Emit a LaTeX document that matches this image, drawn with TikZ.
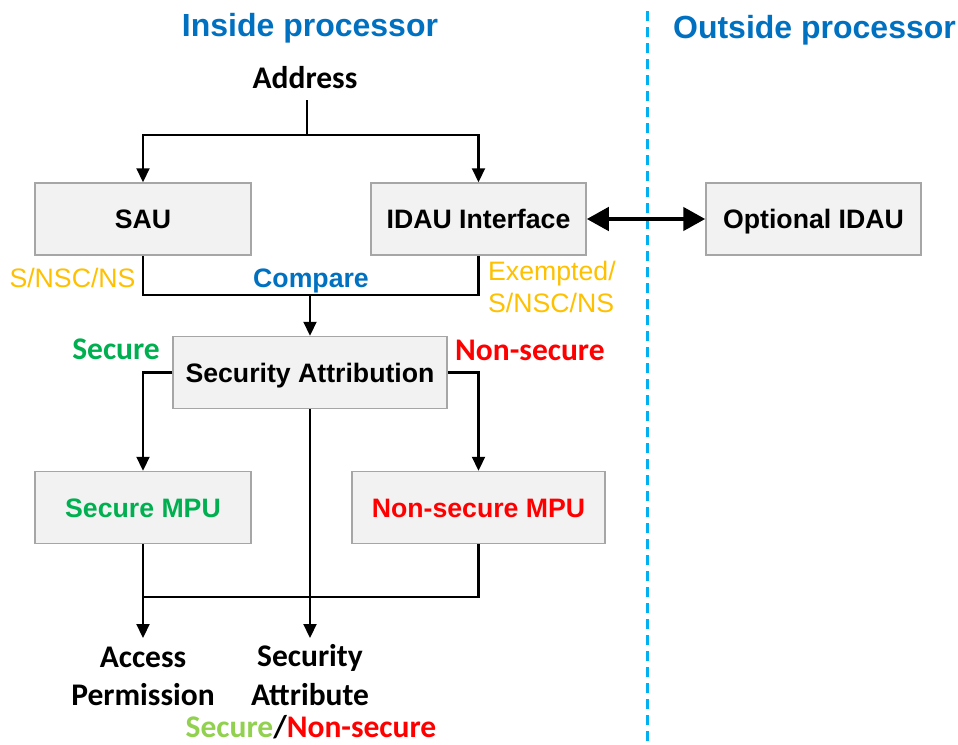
\documentclass[tikz,border=0pt]{standalone}
\usepackage{fontspec}
\usetikzlibrary{arrows.meta}
\newfontfamily\arialfont{Liberation Sans}
\newfontfamily\calfont{Carlito}
\definecolor{boxfill}{HTML}{F2F2F2}
\definecolor{boxline}{HTML}{A6A6A6}
\definecolor{attrorange}{HTML}{FFC000}
\definecolor{titleblue}{HTML}{0070C0}
\definecolor{secgreen}{HTML}{00B050}
\definecolor{lightgreen}{HTML}{92D050}
\definecolor{nsred}{HTML}{FF0000}
\definecolor{divblue}{HTML}{00B0F0}
\tikzset{
  unitbox/.style={draw=boxline, fill=boxfill, line width=1.5pt, inner sep=0pt,
    minimum height=72pt, text height=19pt, text depth=0pt,
    font=\arialfont\bfseries\fontsize{26.67}{32}\selectfont},
  titletext/.style={inner sep=0pt, anchor=base, text=titleblue,
    font=\arialfont\bfseries\fontsize{32}{38}\selectfont},
  caltext/.style={inner sep=0pt, font=\calfont\bfseries\fontsize{31.5}{38}\selectfont},
  attrtext/.style={inner sep=0pt, text=attrorange,
    font=\arialfont\fontsize{26.67}{32}\selectfont},
  wire/.style={line width=2.2pt, draw=black},
  arrowwire/.style={wire, -{Triangle[width=13pt,length=14pt]}},
  linkarrow/.style={line width=4.5pt, {Triangle[width=23pt,length=22pt]}-{Triangle[width=23pt,length=22pt]}},
  divider/.style={draw=divblue, line width=3pt, dash pattern=on 10pt off 6pt}
}
\begin{document}
\begin{tikzpicture}[x=1pt, y=-1pt]
\useasboundingbox (0,0) rectangle (958,744);

% region titles and the processor boundary
\node[titletext] (inside) at (310,36) {Inside processor};
\node[titletext] (outside) at (814.5,38) {Outside processor};
\draw[divider] (647,11) -- (647,744);

% blocks
\node[caltext, anchor=base] (addr) at (305,88) {Address};
\node[unitbox, minimum width=216pt] (sau) at (143,219) {SAU};
\node[unitbox, minimum width=215pt] (idau) at (478.5,219) {IDAU Interface};
\node[unitbox, minimum width=215pt] (opt) at (813.5,219) {Optional IDAU};
\node[unitbox, minimum width=274pt] (sa) at (310,372.5) {Security Attribution};
\node[unitbox, minimum width=216pt, text=secgreen] (smpu) at (143,507.5) {Secure MPU};
\node[unitbox, minimum width=253pt, text=nsred] (nsmpu) at (478.5,507.5) {Non-secure MPU};

% attribute labels
\node[attrtext, anchor=base] (saulbl) at (72.5,287) {S/NSC/NS};
\node[attrtext, anchor=base west] (idaulbl1) at (488,280) {Exempted/};
\node[attrtext, anchor=base west] (idaulbl2) at (488,312) {S/NSC/NS};
\node[inner sep=0pt, anchor=base, text=titleblue,
  font=\arialfont\bfseries\fontsize{26.67}{32}\selectfont] (cmp) at (311,287) {Compare};
\node[caltext, anchor=base east, text=secgreen] (seclbl) at (160,359) {Secure};
\node[caltext, anchor=base west, text=nsred] (nslbl) at (455,360) {Non-secure};

% outputs
\node[caltext, anchor=base] (acc1) at (143,667) {Access};
\node[caltext, anchor=base] (acc2) at (143,705) {Permission};
\node[caltext, anchor=base] (attr1) at (310,666) {Security};
\node[caltext, anchor=base] (attr2) at (310,705) {Attribute};
\node[caltext, anchor=base] (attrval) at (311,737)
  {\textcolor{lightgreen}{Secure}/\textcolor{nsred}{Non-secure}};

% junction points
\coordinate (addrtail) at (307,100);
\coordinate (fork) at (307,135);
\coordinate (join) at (310,295);
\coordinate (merge) at (143,597);
\coordinate (acctip) at (143,638);
\coordinate (attrtip) at (310,638);

% connectors
\draw[wire] (addrtail) -- (fork);
\draw[arrowwire] (fork) -| (sau.north);
\draw[arrowwire] (fork) -| (idau.north);
\draw[wire] (sau.south) |- (idau.south |- join) -- (idau.south);
\draw[arrowwire] (join) -- (sa.north);
\draw[arrowwire] (sa.west) -| (smpu.north);
\draw[arrowwire] (sa.east) -| (nsmpu.north);
\draw[arrowwire] (sa.south) -- (attrtip);
\draw[arrowwire] (smpu.south) -- (acctip);
\draw[wire] (nsmpu.south) |- (merge);
\draw[linkarrow] (idau.east) -- (opt.west);
\end{tikzpicture}
\end{document}
